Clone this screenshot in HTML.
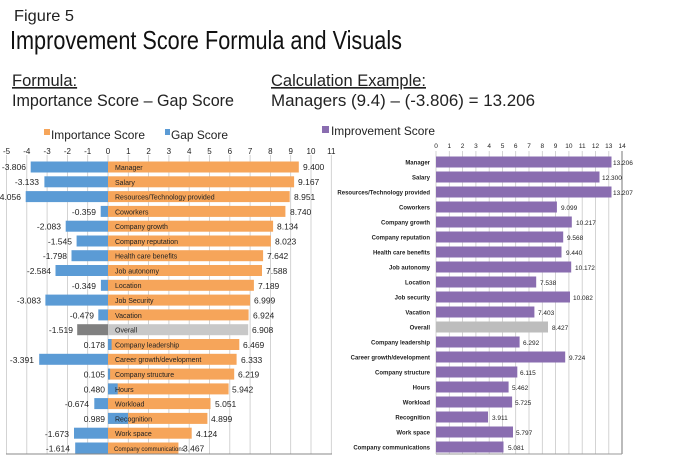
<!DOCTYPE html>
<html><head><meta charset="utf-8"><style>
body{margin:0;background:#fff;width:675px;height:461px;overflow:hidden}
svg{display:block}
text{font-family:"Liberation Sans Narrow","Liberation Sans",sans-serif;fill:#222}
.t{font-size:8px}
.c{font-size:6px;font-weight:bold}
.v{font-size:8.5px}
.rv{font-size:6.5px}
</style></head><body>
<svg width="675" height="461" viewBox="0 0 675 461">
<text x="14" y="21" style="font-size:16px" textLength="60" lengthAdjust="spacingAndGlyphs">Figure 5</text>
<text x="10" y="49" style="font-size:26px;fill:#111" textLength="392" lengthAdjust="spacingAndGlyphs">Improvement Score Formula and Visuals</text>
<text x="12" y="86" style="font-size:16.5px;text-decoration:underline">Formula:</text>
<text x="12" y="106" style="font-size:16.5px" textLength="222" lengthAdjust="spacingAndGlyphs">Importance Score – Gap Score</text>
<text x="271" y="86" style="font-size:16.5px;text-decoration:underline">Calculation Example:</text>
<text x="271" y="106" style="font-size:16.5px" textLength="264" lengthAdjust="spacingAndGlyphs">Managers (9.4) – (-3.806) = 13.206</text>
<rect x="44" y="129" width="6" height="6" fill="#F6A55A"/><text x="51" y="139" style="font-size:12px" textLength="94" lengthAdjust="spacingAndGlyphs">Importance Score</text>
<rect x="165" y="129" width="5" height="6" fill="#5B9BD5"/><text x="171" y="139" style="font-size:12px" textLength="57" lengthAdjust="spacingAndGlyphs">Gap Score</text>
<rect x="322" y="126" width="7" height="7" fill="#8A6DB0"/><text x="331" y="135" style="font-size:12px" textLength="104" lengthAdjust="spacingAndGlyphs">Improvement Score</text>
<g stroke="#c8c8c8" stroke-width="0.8">
<line x1="6.5" y1="155" x2="6.5" y2="454"/><line x1="26.8" y1="155" x2="26.8" y2="454"/><line x1="47.1" y1="155" x2="47.1" y2="454"/><line x1="67.4" y1="155" x2="67.4" y2="454"/><line x1="87.7" y1="155" x2="87.7" y2="454"/><line x1="108" y1="155" x2="108" y2="454"/><line x1="128.3" y1="155" x2="128.3" y2="454"/><line x1="148.6" y1="155" x2="148.6" y2="454"/><line x1="168.9" y1="155" x2="168.9" y2="454"/><line x1="189.2" y1="155" x2="189.2" y2="454"/><line x1="209.5" y1="155" x2="209.5" y2="454"/><line x1="229.8" y1="155" x2="229.8" y2="454"/><line x1="250.1" y1="155" x2="250.1" y2="454"/><line x1="270.4" y1="155" x2="270.4" y2="454"/><line x1="290.7" y1="155" x2="290.7" y2="454"/><line x1="311" y1="155" x2="311" y2="454"/><line x1="331.3" y1="155" x2="331.3" y2="454"/>
</g>
<line x1="6" y1="454" x2="332" y2="454" stroke="#888"/>
<g class="t" text-anchor="middle">
<text x="6.5" y="154">-5</text><text x="26.8" y="154">-4</text><text x="47.1" y="154">-3</text><text x="67.4" y="154">-2</text><text x="87.7" y="154">-1</text><text x="108" y="154">0</text><text x="128.3" y="154">1</text><text x="148.6" y="154">2</text><text x="168.9" y="154">3</text><text x="189.2" y="154">4</text><text x="209.5" y="154">5</text><text x="229.8" y="154">6</text><text x="250.1" y="154">7</text><text x="270.4" y="154">8</text><text x="290.7" y="154">9</text><text x="311" y="154">10</text><text x="331.3" y="154">11</text>
</g>
<g fill="#F6A55A">
<rect x="108" y="161.5" width="190.8" height="11"/><rect x="108" y="176.3" width="186.1" height="11"/><rect x="108" y="191.1" width="181.7" height="11"/><rect x="108" y="205.9" width="177.4" height="11"/><rect x="108" y="220.7" width="165.1" height="11"/><rect x="108" y="235.5" width="162.9" height="11"/><rect x="108" y="250.2" width="155.1" height="11"/><rect x="108" y="265" width="154" height="11"/><rect x="108" y="279.8" width="145.9" height="11"/><rect x="108" y="294.6" width="142.1" height="11"/><rect x="108" y="309.4" width="140.6" height="11"/><rect x="108" y="324.2" width="140.2" height="11" fill="#C8C8C8"/><rect x="108" y="339" width="131.3" height="11"/><rect x="108" y="353.8" width="128.6" height="11"/><rect x="108" y="368.6" width="126.2" height="11"/><rect x="108" y="383.4" width="120.6" height="11"/><rect x="108" y="398.1" width="102.5" height="11"/><rect x="108" y="412.9" width="99.4" height="11"/><rect x="108" y="427.7" width="83.7" height="11"/><rect x="108" y="442.5" width="70.4" height="11"/>
</g>
<g fill="#5B9BD5">
<rect x="30.7" y="161.5" width="77.3" height="11"/><rect x="44.4" y="176.3" width="63.6" height="11"/><rect x="25.7" y="191.1" width="82.3" height="11"/><rect x="100.7" y="205.9" width="7.3" height="11"/><rect x="65.7" y="220.7" width="42.3" height="11"/><rect x="76.6" y="235.5" width="31.4" height="11"/><rect x="71.5" y="250.2" width="36.5" height="11"/><rect x="55.5" y="265" width="52.5" height="11"/><rect x="100.9" y="279.8" width="7.1" height="11"/><rect x="45.4" y="294.6" width="62.6" height="11"/><rect x="98.3" y="309.4" width="9.7" height="11"/><rect x="77.2" y="324.2" width="30.8" height="11" fill="#808080"/><rect x="108" y="339" width="3.6" height="11"/><rect x="39.2" y="353.8" width="68.8" height="11"/><rect x="108" y="368.6" width="2.1" height="11"/><rect x="108" y="383.4" width="9.7" height="11"/><rect x="94.3" y="398.1" width="13.7" height="11"/><rect x="108" y="412.9" width="20.1" height="11"/><rect x="74" y="427.7" width="34" height="11"/><rect x="75.2" y="442.5" width="32.8" height="11"/>
</g>
<g style="font-size:7px">
<text x="115" y="170">Manager</text><text x="115" y="185">Salary</text><text x="115" y="199.5">Resources/Technology provided</text><text x="115" y="214.5">Coworkers</text><text x="115" y="229">Company growth</text><text x="115" y="244">Company reputation</text><text x="115" y="258.5">Health care benefits</text><text x="115" y="273.5">Job autonomy</text><text x="115" y="288">Location</text><text x="115" y="303">Job Security</text><text x="115" y="318">Vacation</text><text x="115" y="332.5">Overall</text><text x="115" y="347.5">Company leadership</text><text x="115" y="362">Career growth/development</text><text x="115" y="377">Company structure</text><text x="115" y="392">Hours</text><text x="115" y="406.5">Workload</text><text x="115" y="421.5">Recognition</text><text x="115" y="436">Work space</text><text x="114" y="451" style="font-size:6px">Company communications</text>
</g>
<g class="v">
<text x="303" y="170">9.400</text><text x="298" y="185">9.167</text><text x="294" y="200">8.951</text><text x="290" y="215">8.740</text><text x="277" y="229.5">8.134</text><text x="275" y="244.5">8.023</text><text x="267" y="259">7.642</text><text x="266" y="274">7.588</text><text x="258" y="289">7.189</text><text x="254" y="303.5">6.999</text><text x="253" y="318.5">6.924</text><text x="252" y="333">6.908</text><text x="243" y="348">6.469</text><text x="241" y="363">6.333</text><text x="238" y="377.5">6.219</text><text x="232" y="392.5">5.942</text><text x="215" y="407">5.051</text><text x="211" y="422">4.899</text><text x="196" y="437">4.124</text><text x="183" y="451.5">3.467</text>
</g>
<g class="v" text-anchor="end">
<text x="26" y="170">-3.806</text><text x="39" y="185">-3.133</text><text x="21" y="200">-4.056</text><text x="96" y="215">-0.359</text><text x="61" y="229.5">-2.083</text><text x="72" y="244.5">-1.545</text><text x="67" y="259">-1.798</text><text x="51" y="274">-2.584</text><text x="96" y="289">-0.349</text><text x="41" y="303.5">-3.083</text><text x="94" y="318.5">-0.479</text><text x="73" y="333">-1.519</text><text x="105" y="348">0.178</text><text x="34" y="363">-3.391</text><text x="105" y="377.5">0.105</text><text x="105" y="392.5">0.480</text><text x="89" y="407">-0.674</text><text x="105" y="422">0.989</text><text x="69" y="437">-1.673</text><text x="70" y="451.5">-1.614</text>
</g>
<g stroke="#c8c8c8" stroke-width="0.8">
<line x1="436" y1="151" x2="436" y2="454"/><line x1="449.3" y1="151" x2="449.3" y2="454"/><line x1="462.6" y1="151" x2="462.6" y2="454"/><line x1="475.9" y1="151" x2="475.9" y2="454"/><line x1="489.2" y1="151" x2="489.2" y2="454"/><line x1="502.5" y1="151" x2="502.5" y2="454"/><line x1="515.7" y1="151" x2="515.7" y2="454"/><line x1="529" y1="151" x2="529" y2="454"/><line x1="542.3" y1="151" x2="542.3" y2="454"/><line x1="555.6" y1="151" x2="555.6" y2="454"/><line x1="568.9" y1="151" x2="568.9" y2="454"/><line x1="582.2" y1="151" x2="582.2" y2="454"/><line x1="595.5" y1="151" x2="595.5" y2="454"/><line x1="608.8" y1="151" x2="608.8" y2="454"/>
</g>
<line x1="622" y1="151" x2="622" y2="454" stroke="#777"/>
<line x1="436" y1="454" x2="622" y2="454" stroke="#999"/>
<g style="font-size:6.5px" text-anchor="middle">
<text x="436" y="148">0</text><text x="449.3" y="148">1</text><text x="462.6" y="148">2</text><text x="475.9" y="148">3</text><text x="489.2" y="148">4</text><text x="502.5" y="148">5</text><text x="515.7" y="148">6</text><text x="529" y="148">7</text><text x="542.3" y="148">8</text><text x="555.6" y="148">9</text><text x="568.9" y="148">10</text><text x="582.2" y="148">11</text><text x="595.5" y="148">12</text><text x="608.8" y="148">13</text><text x="622.1" y="148">14</text>
</g>
<g fill="#8A6DB0">
<rect x="436" y="156.5" width="175.5" height="11"/><rect x="436" y="171.5" width="163.5" height="11"/><rect x="436" y="186.5" width="175.5" height="11"/><rect x="436" y="201.5" width="120.9" height="11"/><rect x="436" y="216.5" width="135.8" height="11"/><rect x="436" y="231.5" width="127.2" height="11"/><rect x="436" y="246.5" width="125.5" height="11"/><rect x="436" y="261.5" width="135.2" height="11"/><rect x="436" y="276.5" width="100.2" height="11"/><rect x="436" y="291.5" width="134" height="11"/><rect x="436" y="306.5" width="98.4" height="11"/><rect x="436" y="321.5" width="112" height="11" fill="#BDBDBD"/><rect x="436" y="336.5" width="83.6" height="11"/><rect x="436" y="351.5" width="129.2" height="11"/><rect x="436" y="366.5" width="81.3" height="11"/><rect x="436" y="381.5" width="72.6" height="11"/><rect x="436" y="396.5" width="76.1" height="11"/><rect x="436" y="411.5" width="52" height="11"/><rect x="436" y="426.5" width="77" height="11"/><rect x="436" y="441.5" width="67.5" height="11"/>
</g>
<g class="c" text-anchor="end">
<text x="430" y="164.5">Manager</text><text x="430" y="179.5">Salary</text><text x="430" y="194.5">Resources/Technology provided</text><text x="430" y="209.5">Coworkers</text><text x="430" y="224.5">Company growth</text><text x="430" y="239.5">Company reputation</text><text x="430" y="254.5">Health care benefits</text><text x="430" y="269.5">Job autonomy</text><text x="430" y="284.5">Location</text><text x="430" y="299.5">Job security</text><text x="430" y="314.5">Vacation</text><text x="430" y="329.5">Overall</text><text x="430" y="344.5">Company leadership</text><text x="430" y="359.5">Career growth/development</text><text x="430" y="374.5">Company structure</text><text x="430" y="389.5">Hours</text><text x="430" y="404.5">Workload</text><text x="430" y="419.5">Recognition</text><text x="430" y="434.5">Work space</text><text x="430" y="449.5">Company communications</text>
</g>
<g class="rv">
<text x="613" y="165">13.206</text><text x="602" y="180">12.300</text><text x="613" y="195">13.207</text><text x="561" y="210">9.099</text><text x="576" y="225">10.217</text><text x="567" y="240">9.568</text><text x="566" y="255">9.440</text><text x="575" y="270">10.172</text><text x="540" y="285">7.538</text><text x="573" y="300">10.082</text><text x="538" y="315">7.403</text><text x="552" y="330">8.427</text><text x="523" y="345">6.292</text><text x="569" y="360">9.724</text><text x="520" y="375">6.115</text><text x="512" y="390">5.462</text><text x="515" y="405">5.725</text><text x="492" y="420">3.911</text><text x="516" y="435">5.797</text><text x="508" y="450">5.081</text>
</g>
</svg>
</body></html>
